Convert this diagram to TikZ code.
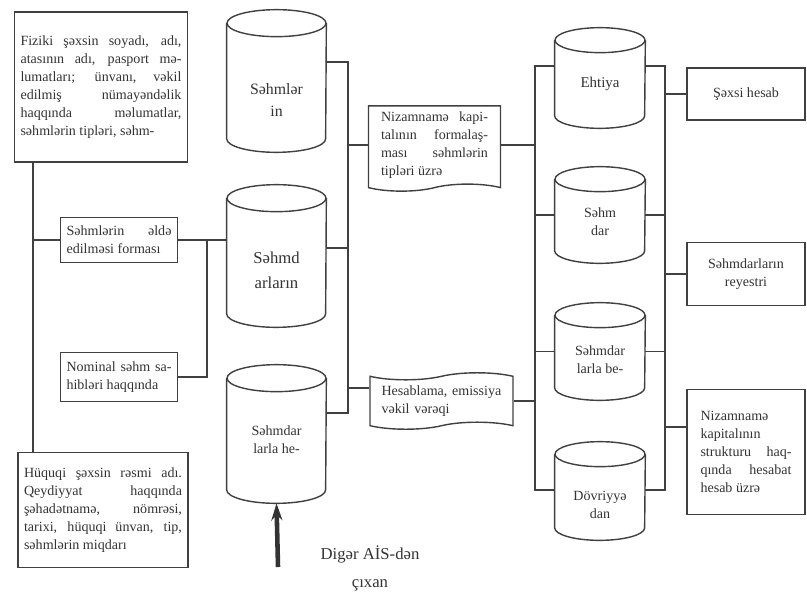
\documentclass[tikz,border=0pt]{standalone}
\usepackage{fontspec}
\setmainfont{Liberation Serif}
\usetikzlibrary{shapes.symbols, arrows.meta}

% outline of a database drum round a body node
\newcommand{\drawdb}[3]{%
  \draw[link] (#1.north west) -- (#1.south west)
    arc[start angle=180, end angle=360, x radius=#2, y radius=#3] -- (#1.north east);
  \draw[link] (#1.north) ellipse[x radius=#2, y radius=#3];}

\begin{document}
\begin{tikzpicture}[x=0.02cm, y=-0.02cm,
  every node/.style={text=black!80, font=\fontsize{8}{10.2}\selectfont},
  infobox/.style={draw=black!75, line width=0.8pt, align=justify, inner ysep=3pt},
  dbase/.style={inner sep=0pt, align=center},
  dblabel/.style={align=center, inner sep=0pt},
  docu/.style={tape, draw=black!75, line width=0.8pt, tape bend height=4pt, align=justify},
  link/.style={draw=black!75, line width=0.8pt}]
		\useasboundingbox (0,0) rectangle (807,591);

		% Left column boxes
		\node[infobox, text width=3.22cm, minimum height=3cm] (fiz) at (101,87)
			{Fiziki şəxsin soyadı, adı,\linebreak atasının adı, pasport mə-\linebreak lumatları; ünvanı, vəkil\linebreak edilmiş nümayəndəlik\linebreak haqqında məlumatlar,\linebreak səhmlərin tipləri, səhm-};
		\node[infobox, text width=2.1cm, minimum height=0.9cm] (ald) at (119,240)
			{Səhmlərin əldə\linebreak edilməsi forması};
		\node[infobox, text width=2.1cm, minimum height=0.98cm] (nom) at (119,377)
			{Nominal səhm sa-\linebreak hibləri haqqında};
		\node[infobox, text width=3.16cm, minimum height=2.3cm] (huq) at (103,510)
			{Hüquqi şəxsin rəsmi adı.\linebreak Qeydiyyat haqqında\linebreak şəhadətnamə, nömrəsi,\linebreak tarixi, hüquqi ünvan, tip,\linebreak səhmlərin miqdarı};

		% Middle cylinders
		\node[dbase, minimum width=1.98cm, minimum height=2.3cm] (cyl1) at (276.5,81) {};
		\node[dbase, minimum width=1.98cm, minimum height=2.3cm] (cyl2) at (276.5,256) {};
		\node[dbase, minimum width=1.98cm, minimum height=2.22cm] (cyl3) at (276.5,434) {};
		\drawdb{cyl1}{0.99cm}{0.27cm}
		\drawdb{cyl2}{0.99cm}{0.27cm}
		\drawdb{cyl3}{0.99cm}{0.27cm}
		\node[dblabel, font=\fontsize{9}{12.5}\selectfont] (cyl1t) at (276.5,100) {Səhmlər\\in};
		\node[dblabel, font=\fontsize{9.5}{14}\selectfont] (cyl2t) at (276.5,270) {Səhmd\\arların};
		\node[dblabel] (cyl3t) at (276.5,440) {Səhmdar\\larla he-};

		% Documents
		\node[docu, tape bend top=none, text width=2.14cm, minimum width=2.64cm, minimum height=1.6cm] (doc1) at (434.5,145)
			{Nizamnamə kapi-\linebreak talının formalaş-\linebreak ması səhmlərin\linebreak tipləri üzrə};
		\node[docu, align=left, text width=2.4cm, minimum width=2.86cm, minimum height=1.04cm] (doc2) at (441.5,401)
			{Hesablama, emissiya\\vəkil vərəqi};

		% Right cylinders
		\node[dbase, minimum width=1.8cm, minimum height=1.5cm] (cylA) at (600,78) {};
		\node[dbase, minimum width=1.8cm, minimum height=1.42cm] (cylB) at (600,215) {};
		\node[dbase, minimum width=1.8cm, minimum height=1.44cm] (cylC) at (600,351.5) {};
		\node[dbase, minimum width=1.8cm, minimum height=1.46cm] (cylD) at (600,491) {};
		\drawdb{cylA}{0.9cm}{0.25cm}
		\drawdb{cylB}{0.9cm}{0.25cm}
		\drawdb{cylC}{0.9cm}{0.25cm}
		\drawdb{cylD}{0.9cm}{0.25cm}
		\node[dblabel, font=\fontsize{8.5}{13}\selectfont] (cylAt) at (600,84) {Ehtiya};
		\node[dblabel] (cylBt) at (600,222) {Səhm\\dar};
		\node[dblabel] (cylCt) at (600,360) {Səhmdar\\larla be-};
		\node[dblabel] (cylDt) at (600,505) {Dövriyyə\\dan};

		% Right boxes
		\node[infobox, align=center, minimum width=2.36cm, minimum height=1.04cm] (sxs) at (746,94) {Şəxsi hesab};
		\node[infobox, align=center, minimum width=2.36cm, minimum height=1.26cm] (rey) at (746,274) {Səhmdarların\\reyestri};
		\node[infobox, text width=1.82cm, minimum width=2.36cm, minimum height=2.5cm] (niz) at (746,452)
			{Nizamnamə\\kapitalının\\strukturu haq-\linebreak qında hesabat\linebreak hesab üzrə};

		% Input from outside
		\coordinate (inp) at (278,567);
		\draw[line width=2.6pt, black!80, -{Stealth[length=0.34cm, width=0.22cm]}] (inp) -- ([yshift=-0.27cm]cyl3.south);
		\node[font=\fontsize{9.5}{16}\selectfont, align=center] (dig) at (370,568) {Digər AİS-dən\\çıxan};

		% Left trunk
		\coordinate (lt) at (33,240);
		\draw[link] (lt |- fiz.south) -- (lt |- huq.north);
		\draw[link] (lt) -- (ald.west);
		\coordinate (lj) at (207,240);
		\draw[link] (ald.east) -- (cyl2.west |- lj);
		\draw[link] (nom.east) -| (lj);

		% Middle trunk
		\coordinate (m1) at (348,62);
		\coordinate (m3) at (348,248);
		\coordinate (m4) at (348,388);
		\coordinate (m5) at (348,413);
		\draw[link] (cyl1.east |- m1) -- (m1) -- (m5) -- (cyl3.east |- m5);
		\draw[link] (m1 |- doc1.west) -- (doc1.west);
		\draw[link] (m3) -- (cyl2.east |- m3);
		\draw[link] (m4) -- (doc2.west |- m4);

		% Right trunks
		\coordinate (r1) at (535,66);
		\coordinate (r4) at (535,490);
		\draw[link] (cylA.west |- r1) -- (r1) -- (r4) -- (cylD.west |- r4);
		\draw[link] (r1 |- cylB.center) -- (cylB.west);
		\draw[link] (r1 |- cylC.center) -- (cylC.west);
		\draw[link] (doc1.east) -- (doc1.east -| r1);
		\draw[link] (doc2.east) -- (doc2.east -| r1);
		\coordinate (q1) at (665,66);
		\coordinate (q4) at (665,490);
		\coordinate (q3) at (665,427);
		\draw[link] (cylA.east |- q1) -- (q1) -- (q4) -- (cylD.east |- q4);
		\draw[link] (q1 |- cylB.center) -- (cylB.east);
		\draw[link] (q1 |- cylC.center) -- (cylC.east);
		\draw[link] (q1 |- sxs.west) -- (sxs.west);
		\draw[link] (q1 |- rey.west) -- (rey.west);
		\draw[link] (q3) -- (niz.west |- q3);
	\end{tikzpicture}
\end{document}
